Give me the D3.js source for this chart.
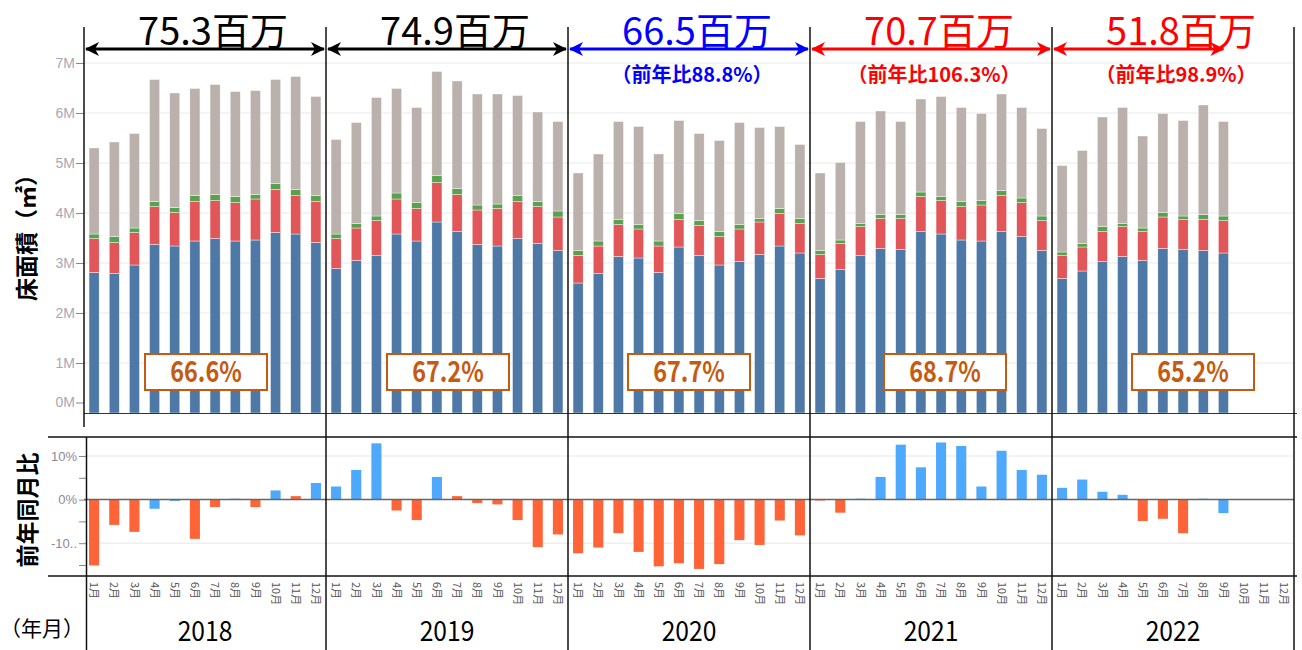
<!DOCTYPE html>
<html>
<head>
<meta charset="utf-8">
<script src="https://cdn.jsdelivr.net/npm/d3@7"></script>
<style>
body{margin:0;background:#fff;}
svg{display:block;font-family:"Noto Sans CJK JP","Noto Sans",sans-serif;}
</style>
</head>
<body>
<div id="chart"></div>
<script>
// ---- data (百万㎡, 2018/1 - 2022/9) ----
const years = ['2018','2019','2020','2021','2022'];
const months = ['1月','2月','3月','4月','5月','6月','7月','8月','9月','10月','11月','12月'];

const blueVals = [
  2.81,2.79,2.96,3.37,3.34,3.44,3.49,3.44,3.46,3.61,3.58,3.41,
  2.89,3.05,3.15,3.58,3.44,3.82,3.63,3.37,3.34,3.49,3.39,3.25,
  2.60,2.79,3.13,3.10,2.81,3.32,3.15,2.96,3.03,3.17,3.34,3.20,
  2.69,2.87,3.15,3.29,3.27,3.63,3.58,3.46,3.44,3.63,3.53,3.25,
  2.69,2.84,3.03,3.13,3.05,3.29,3.27,3.25,3.20];
const redVals = [
  0.68,0.62,0.65,0.76,0.67,0.79,0.76,0.77,0.82,0.86,0.77,0.82,
  0.60,0.65,0.70,0.70,0.65,0.79,0.74,0.69,0.75,0.74,0.74,0.67,
  0.55,0.55,0.64,0.58,0.53,0.55,0.60,0.57,0.65,0.65,0.65,0.59,
  0.48,0.52,0.58,0.60,0.62,0.70,0.67,0.67,0.72,0.72,0.68,0.60,
  0.46,0.48,0.60,0.60,0.58,0.63,0.60,0.62,0.65];
const greenVals = [
  0.09,0.12,0.09,0.10,0.10,0.12,0.12,0.12,0.09,0.12,0.12,0.12,
  0.09,0.09,0.09,0.12,0.12,0.14,0.12,0.10,0.09,0.12,0.10,0.12,
  0.10,0.10,0.10,0.09,0.10,0.12,0.10,0.10,0.09,0.07,0.10,0.10,
  0.08,0.07,0.06,0.08,0.08,0.09,0.08,0.10,0.09,0.10,0.09,0.09,
  0.07,0.07,0.10,0.06,0.07,0.09,0.07,0.10,0.09];
const greyVals = [
  1.72,1.89,1.89,2.44,2.29,2.14,2.20,2.10,2.08,2.08,2.26,1.98,
  1.89,2.02,2.37,2.09,1.90,2.08,2.15,2.22,2.20,2.00,1.79,1.79,
  1.55,1.74,1.96,1.96,1.74,1.86,1.74,1.82,2.04,1.82,1.64,1.48,
  1.55,1.55,2.04,2.07,1.86,1.86,2.00,1.88,1.74,1.93,1.81,1.75,
  1.73,1.86,2.19,2.32,1.84,1.98,1.91,2.19,1.89];

// 前年同月比 (%)
const yoyVals = [
  -15.1,-5.8,-7.4,-2.1,-0.3,-9.0,-1.7,0.2,-1.7,2.1,0.8,3.8,
  3.0,6.8,12.9,-2.5,-4.7,5.2,0.8,-0.8,-1.1,-4.7,-10.9,-8.0,
  -12.3,-11.0,-7.7,-12.0,-15.3,-14.6,-15.9,-14.8,-9.3,-10.4,-4.8,-8.2,
  -0.2,-3.0,0.2,5.2,12.6,7.4,13.1,12.3,3.0,11.2,6.8,5.7,
  2.7,4.6,1.8,1.1,-4.9,-4.4,-7.7,0.2,-3.1];
const yoyGroup = [
  'o','o','o','b','b','o','o','b','o','b','o','b',
  'b','b','b','o','o','b','o','o','o','o','o','o',
  'o','o','o','o','o','o','o','o','o','o','o','o',
  'o','o','b','b','b','b','b','b','b','b','b','b',
  'b','b','b','b','o','o','o','b','b'];

const yearTotals = ['75.3百万','74.9百万','66.5百万','70.7百万','51.8百万'];
const yearRatio = ['','','（前年比88.8%）','（前年比106.3%）','（前年比98.9%）'];
const shareLabels = ['66.6%','67.2%','67.7%','68.7%','65.2%'];
const upperTicks = [0,1,2,3,4,5,6,7];
const lowerTicks = [10,5,0,-5,-10,-15];
const lowerTickText = {'10':'10%','0':'0%','-10':'-10..'};

// ---- layout ----
const W = 1302, H = 650;
const left = 84, right = 1294;
const headColor = ['#000','#000','#0000ff','#ff0000','#ff0000'];
const segColor = {blue:'#4e79a7', red:'#e15759', green:'#59a14f', grey:'#bab0ac'};
const yoyColor = {o:'#ff6438', b:'#4ea8fc'};
const boxShift = [1,1,0,14,20];

const slots = years.flatMap(y => months.map(m => y + '-' + m));
const rows = blueVals.map((v,i) => ({
  key: slots[i], blue: v, red: redVals[i], green: greenVals[i], grey: greyVals[i],
  yoy: yoyVals[i], g: yoyGroup[i]
}));

const x = d3.scaleBand().domain(slots).range([left, right]).paddingInner(0.5).paddingOuter(0.25);
const xYear = d3.scaleBand().domain(years).range([left, right]);
const yUp = d3.scaleLinear().domain([0,7]).range([413,63]);
const yLo = d3.scaleLinear().domain([-15,10]).range([565,456]);

const svg = d3.select('#chart').append('svg').attr('width', W).attr('height', H);

// grid upper
svg.append('g').selectAll('line').data(upperTicks.slice(1)).join('line')
  .attr('x1', left).attr('x2', right)
  .attr('y1', d => yUp(d)).attr('y2', d => yUp(d))
  .attr('stroke', '#f0f0f0').attr('stroke-width', 1.5);

// stacked bars
const stack = d3.stack().keys(['blue','red','green','grey'])(rows);
svg.append('g').selectAll('g').data(stack).join('g')
  .attr('fill', s => segColor[s.key])
  .selectAll('rect').data(s => s).join('rect')
  .attr('x', d => x(d.data.key))
  .attr('width', x.bandwidth())
  .attr('y', d => yUp(d[1]))
  .attr('height', d => yUp(d[0]) - yUp(d[1]))
  .attr('stroke', '#fff').attr('stroke-width', 0.4);

// upper y axis
const upAxis = svg.append('g').attr('transform', `translate(${left},0)`)
  .call(d3.axisLeft(yUp).tickValues(upperTicks).tickFormat(d => d + 'M').tickSize(8).tickPadding(1));
upAxis.select('.domain').remove();
upAxis.selectAll('.tick line').attr('stroke', '#888');
upAxis.selectAll('.tick text').attr('fill', '#a8a8b4').style('font-size', '14px')
  .style('font-family', '"Liberation Sans",Arial,sans-serif');
upAxis.selectAll('.tick').filter(d => d === 0).attr('transform', `translate(0,${yUp(0) - 10})`);

// baseline
svg.append('line').attr('x1', left).attr('x2', right + 3).attr('y1', 413.5).attr('y2', 413.5)
  .attr('stroke', '#333').attr('stroke-width', 1.2);

// share boxes
const boxes = svg.append('g').selectAll('g').data(shareLabels).join('g')
  .attr('transform', (d,i) => `translate(${xYear(years[i]) + xYear.bandwidth()/2 + boxShift[i]},372)`);
boxes.append('rect').attr('x', -61).attr('y', -18).attr('width', 122).attr('height', 36)
  .attr('fill', '#fff').attr('stroke', '#c55a11').attr('stroke-width', 2);
boxes.append('text').text(d => d).attr('text-anchor', 'middle')
  .attr('transform', 'translate(0,10) scale(0.9,1.1)')
  .attr('fill', '#c55a11').style('font-size', '26px').style('font-weight', 'bold');

// lower chart grid + zero
svg.append('g').selectAll('line').data([10,-10]).join('line')
  .attr('x1', left).attr('x2', right)
  .attr('y1', d => yLo(d)).attr('y2', d => yLo(d))
  .attr('stroke', '#efefef').attr('stroke-width', 1.5);

svg.append('g').selectAll('rect').data(rows).join('rect')
  .attr('x', d => x(d.key))
  .attr('width', x.bandwidth())
  .attr('y', d => yLo(Math.max(0, d.yoy)))
  .attr('height', d => Math.abs(yLo(d.yoy) - yLo(0)))
  .attr('fill', d => yoyColor[d.g]);

svg.append('line').attr('x1', left).attr('x2', right).attr('y1', yLo(0)).attr('y2', yLo(0))
  .attr('stroke', '#666').attr('stroke-width', 1.5);

const loAxis = svg.append('g').attr('transform', `translate(${left + 2},0)`)
  .call(d3.axisLeft(yLo).tickValues(lowerTicks).tickFormat(d => lowerTickText[d] || '').tickSize(7).tickPadding(2));
loAxis.select('.domain').remove();
loAxis.selectAll('.tick line').attr('stroke', '#888');
loAxis.selectAll('.tick text').attr('fill', '#8a8a9a').style('font-size', '13px')
  .style('font-family', '"Liberation Sans",Arial,sans-serif');

// frame lines
const frame = svg.append('g').attr('stroke', '#111');
frame.append('line').attr('x1', 48).attr('x2', right + 3).attr('y1', 437).attr('y2', 437).attr('stroke-width', 1.5);
frame.append('line').attr('x1', 48).attr('x2', right + 3).attr('y1', 576).attr('y2', 576).attr('stroke-width', 1.5);
frame.append('line').attr('x1', left).attr('x2', left).attr('y1', 27).attr('y2', 427).attr('stroke-width', 1.5);
frame.append('line').attr('x1', left + 2.5).attr('x2', left + 2.5).attr('y1', 437).attr('y2', H).attr('stroke-width', 1.5);
frame.selectAll('.div').data(years.slice(1).concat(['end'])).join('line')
  .attr('x1', (d,i) => left + xYear.step() * (i + 1)).attr('x2', (d,i) => left + xYear.step() * (i + 1))
  .attr('y1', 27).attr('y2', H).attr('stroke-width', 1.5);

// month labels
svg.append('g').selectAll('text').data(slots).join('text')
  .attr('transform', d => `translate(${x(d) + x.bandwidth()/2},582) rotate(90)`)
  .attr('dy', '0.35em')
  .text(d => d.split('-')[1])
  .attr('fill', '#555').style('font-size', '11px');

// year labels
svg.append('g').selectAll('text').data(years).join('text')
  .attr('transform', d => `translate(${xYear(d) + xYear.bandwidth()/2},641) scale(0.88,1)`)
  .attr('text-anchor', 'middle').text(d => d)
  .style('font-size', '28px');

svg.append('text').attr('x', 0).attr('y', 628).attr('dy', '0.36em').text('（年月）')
  .style('font-size', '21px');

// axis titles
svg.append('text').attr('transform', 'translate(27,232) rotate(-90)').attr('dy', '0.36em')
  .attr('text-anchor', 'middle').text('床面積（㎡）')
  .style('font-size', '23px').style('font-weight', 'bold');
svg.append('text').attr('transform', 'translate(28,510) rotate(-90)').attr('dy', '0.36em')
  .attr('text-anchor', 'middle').text('前年同月比')
  .style('font-size', '23px').style('font-weight', 'bold');

// header arrows + totals
const defs = svg.append('defs');
headColor.forEach((c,i) => {
  defs.append('marker').attr('id', 'ah' + i).attr('viewBox', '0 -7 14 14')
    .attr('refX', 13).attr('refY', 0).attr('markerWidth', 14).attr('markerHeight', 14)
    .attr('markerUnits', 'userSpaceOnUse').attr('orient', 'auto-start-reverse')
    .append('path').attr('d', 'M0,-7L14,0L0,7L4,0Z').attr('fill', c);
});
const lastIdx = years.map((y,i) => rows.filter(r => r.key.startsWith(y)).slice(-1)[0]);
const heads = svg.append('g').selectAll('g').data(years).join('g');
heads.append('line')
  .attr('x1', d => xYear(d) + 2)
  .attr('x2', (d,i) => i === years.length - 1 ? x(lastIdx[i].key) + x.bandwidth()/2 : xYear(d) + xYear.bandwidth() - 2)
  .attr('y1', 49).attr('y2', 49)
  .attr('stroke', (d,i) => headColor[i]).attr('stroke-width', 3)
  .attr('marker-start', (d,i) => `url(#ah${i})`).attr('marker-end', (d,i) => `url(#ah${i})`);
heads.append('text')
  .attr('x', d => xYear(d) + xYear.bandwidth()/2 + 8).attr('y', 45)
  .attr('text-anchor', 'middle').text((d,i) => yearTotals[i])
  .attr('fill', (d,i) => headColor[i])
  .style('font-size', '38px');
heads.append('text')
  .attr('x', d => xYear(d) + xYear.bandwidth()/2 + 3).attr('y', 82)
  .attr('text-anchor', 'middle').text((d,i) => yearRatio[i])
  .attr('fill', (d,i) => headColor[i])
  .style('font-size', '20px').style('font-weight', 'bold');
</script>
</body>
</html>
